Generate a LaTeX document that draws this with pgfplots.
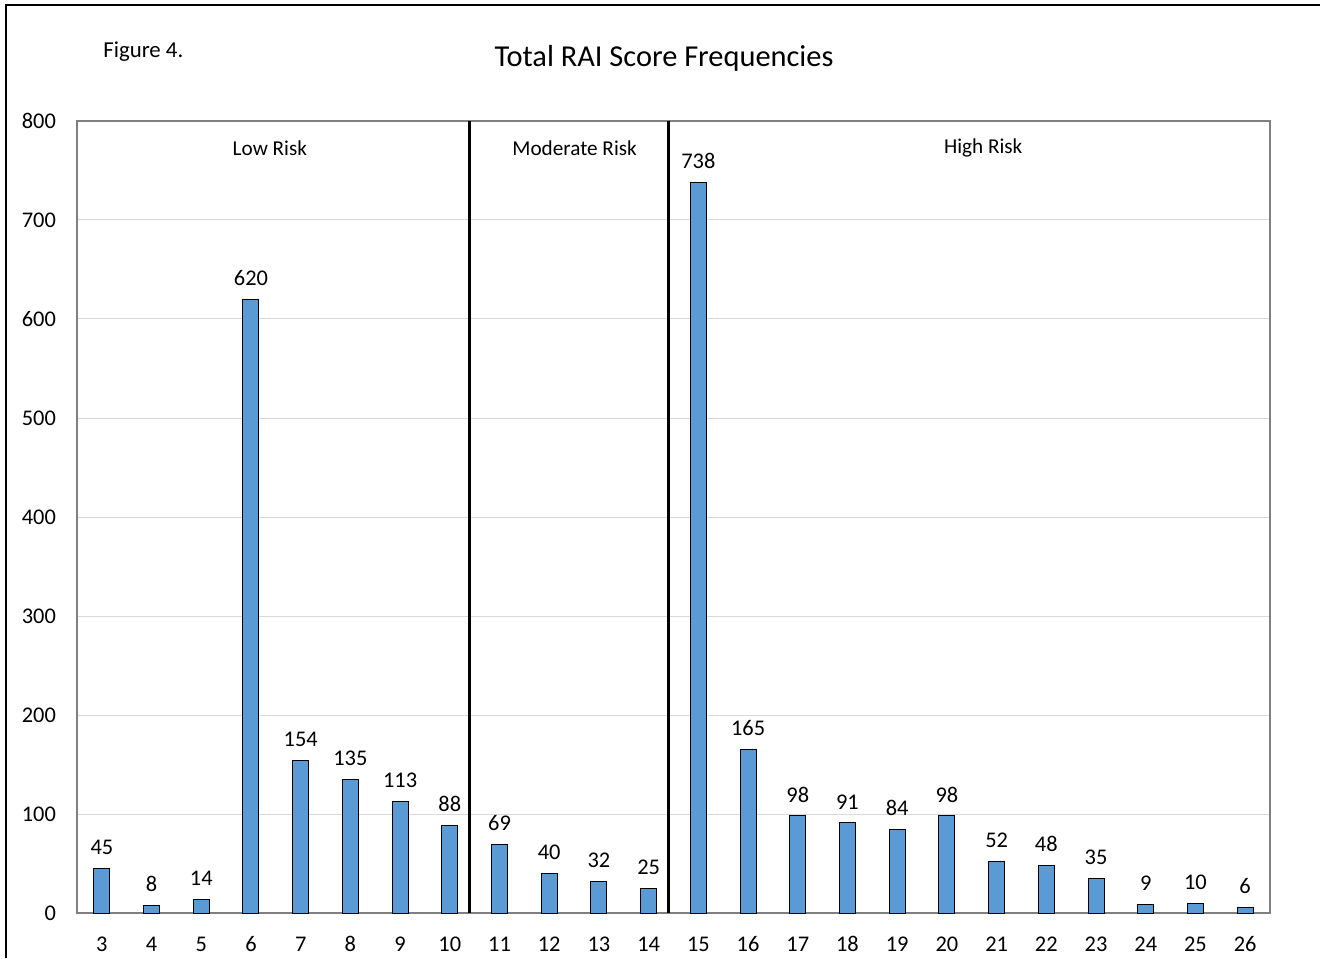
\documentclass[border=0pt]{standalone}
\usepackage{pgfplots}
\pgfplotsset{compat=1.18}
\usepackage{fontspec}
\setmainfont{Carlito}
\definecolor{barblue}{HTML}{5B9BD5}
\begin{document}
\begin{tikzpicture}
\useasboundingbox (0,0) rectangle (660pt,479pt);
\draw[line width=1.1pt] (3pt,0) -- (3pt,476.5pt) -- (661pt,476.5pt);
\node[anchor=west, inner sep=0pt, font=\fontsize{11.4}{13}\selectfont] at (51.5pt,453pt) {Figure 4.};
\node[font=\fontsize{15.2}{18}\selectfont] at (332pt,450pt) {Total RAI Score Frequencies};
\begin{axis}[
  at={(38.5pt,22.5pt)}, anchor=south west,
  scale only axis, width=596.5pt, height=396pt,
  xmin=2.5, xmax=26.5, ymin=0, ymax=800,
  xtick={3,...,26}, ytick={0,100,...,800},
  major tick length=0pt,
  axis line style={draw=black!50, line width=0.6pt},
  ymajorgrids, grid style={draw=black!15, line width=0.5pt},
  ybar, bar width=8pt,
  /pgf/number format/assume math mode=true,
  tick label style={font=\fontsize{11.2}{13}\selectfont},
  xticklabel style={yshift=-8.3pt},
  yticklabel style={xshift=-7pt},
  nodes near coords,
  every node near coord/.append style={font=\fontsize{11.2}{13}\selectfont, yshift=3.3pt, black},
  clip=false,
]
\addplot[fill=barblue, draw=black, line width=0.5pt] coordinates {
(3,45) (4,8) (5,14) (6,620) (7,154) (8,135) (9,113) (10,88)
(11,69) (12,40) (13,32) (14,25) (15,738) (16,165) (17,98) (18,91)
(19,84) (20,98) (21,52) (22,48) (23,35) (24,9) (25,10) (26,6)};
\draw[black, line width=1.4pt] (axis cs:10.4,0) -- (axis cs:10.4,800);
\draw[black, line width=1.4pt] (axis cs:14.4,0) -- (axis cs:14.4,800);
\node[font=\fontsize{10.6}{12}\selectfont] at (axis cs:6.38,772.7) {Low Risk};
\node[font=\fontsize{10.6}{12}\selectfont] at (axis cs:12.51,772.7) {Moderate Risk};
\node[font=\fontsize{10.6}{12}\selectfont] at (axis cs:20.73,772.7) {High Risk};
\end{axis}
\end{tikzpicture}
\end{document}
